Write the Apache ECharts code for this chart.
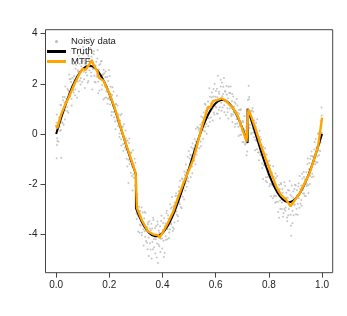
<!DOCTYPE html>
<html><head><meta charset="utf-8">
<script src="https://cdn.jsdelivr.net/npm/echarts@6/dist/echarts.min.js"></script>
<style>html,body{margin:0;padding:0;background:#fff}#c{width:347px;height:316px}</style>
</head><body><div id="c"></div>
<script>
var xTicks = [0, 0.2, 0.4, 0.6, 0.8, 1.0];
var yTicks = [-4, -2, 0, 2, 4];
var seriesNames = ['Noisy data', 'Truth', 'MTF'];

var truthX = [0,0.01,0.02,0.03,0.04,0.05,0.06,0.07,0.08,0.09,0.1,0.11,0.12,0.13,0.14,0.15,0.16,0.17,0.18,0.19,0.2,0.21,0.22,0.23,0.24,0.25,0.26,0.27,0.28,0.29,0.3,0.3,0.31,0.32,0.33,0.34,0.35,0.36,0.37,0.38,0.39,0.4,0.41,0.42,0.43,0.44,0.45,0.46,0.47,0.48,0.49,0.5,0.51,0.52,0.53,0.54,0.55,0.56,0.57,0.58,0.59,0.6,0.61,0.62,0.63,0.64,0.65,0.66,0.67,0.68,0.69,0.7,0.71,0.72,0.72,0.73,0.74,0.75,0.76,0.77,0.78,0.79,0.8,0.81,0.82,0.83,0.84,0.85,0.86,0.87,0.88,0.89,0.9,0.91,0.92,0.93,0.94,0.95,0.96,0.97,0.98,0.99,1.0];
var truthY = [0,0.341,0.676,1.001,1.311,1.599,1.862,2.096,2.297,2.461,2.587,2.672,2.715,2.715,2.672,2.587,2.461,2.297,2.096,1.862,1.599,1.311,1.001,0.676,0.341,0,-0.341,-0.676,-1.001,-1.311,-1.599,-2.959,-3.222,-3.456,-3.657,-3.821,-3.947,-4.032,-4.075,-4.075,-4.032,-3.947,-3.821,-3.657,-3.456,-3.222,-2.959,-2.671,-2.361,-2.036,-1.701,-1.36,-1.019,-0.684,-0.359,-0.049,0.239,0.502,0.736,0.937,1.101,1.227,1.312,1.355,1.355,1.312,1.227,1.101,0.937,0.736,0.502,0.239,-0.049,-0.359,1.001,0.676,0.341,0,-0.341,-0.676,-1.001,-1.311,-1.599,-1.862,-2.096,-2.297,-2.461,-2.587,-2.672,-2.715,-2.715,-2.672,-2.587,-2.461,-2.297,-2.096,-1.862,-1.599,-1.311,-1.001,-0.676,-0.341,0];

var mtfX = [0,0.004,0.018,0.036,0.046,0.07,0.089,0.1,0.11,0.125,0.134,0.143,0.155,0.16,0.178,0.2,0.215,0.23,0.255,0.277,0.299,0.304,0.322,0.346,0.365,0.383,0.388,0.403,0.42,0.44,0.46,0.478,0.497,0.515,0.534,0.55,0.572,0.58,0.59,0.605,0.622,0.64,0.666,0.684,0.7,0.716,0.723,0.734,0.75,0.765,0.79,0.81,0.83,0.847,0.865,0.881,0.9,0.916,0.935,0.953,0.97,0.985,1.0];
var mtfY = [0.36,0.22,0.75,1.22,1.42,2.02,2.42,2.6,2.55,2.78,2.93,2.7,2.5,2.25,2.12,1.62,1.2,0.72,-0.16,-0.85,-1.55,-2.95,-3.43,-3.89,-4.0,-4.03,-4.14,-3.89,-3.55,-3.1,-2.5,-1.98,-1.5,-1.04,-0.28,0.35,1.09,1.05,1.32,1.35,1.42,1.3,1.02,0.69,0.2,-0.31,0.98,0.69,0.2,-0.3,-1.05,-1.6,-2.15,-2.45,-2.62,-2.88,-2.6,-2.36,-1.95,-1.57,-1.0,-0.5,0.65];

var noisyBatchA = [
[0.001,0.45],[0.004,-0.17],[0.006,0.26],[0.009,-0.31],[0.003,-0.44],[0.002,-0.97],
[0.011,0.66],[0.013,0.29],[0.016,1.15],[0.018,0.16],[0.019,-0.95],
[0.021,0.86],[0.024,0.43],[0.026,1.34],[0.028,0.86],
[0.031,1.25],[0.033,0.58],[0.035,1.89],[0.038,1.27],
[0.041,1.07],[0.043,1.79],[0.046,0.84],[0.049,1.68],
[0.051,2.18],[0.053,1.49],[0.056,2.07],[0.058,1.39],
[0.061,1.93],[0.064,2.78],[0.066,1.65],[0.068,2.31],
[0.071,1.54],[0.073,2.60],[0.075,2.13],[0.078,2.93],
[0.081,2.09],[0.083,2.48],[0.086,1.69],[0.089,2.80],
[0.091,3.39],[0.093,2.22],[0.095,2.70],[0.098,2.07],
[0.101,3.17],[0.104,2.48],[0.106,2.93],[0.108,1.83],
[0.111,2.77],[0.113,3.74],[0.116,2.33],[0.119,3.17],
[0.121,2.11],[0.123,2.96],[0.126,2.67],[0.128,3.43],
[0.131,2.45],[0.133,3.08],[0.136,1.77],[0.139,2.82],
[0.141,3.18],[0.143,2.32],[0.146,2.69],[0.148,2.05],
[0.151,2.88],[0.154,2.38],[0.156,3.35],[0.158,2.08],
[0.161,2.57],[0.163,1.73],[0.166,2.79],[0.169,2.29],
[0.171,2.90],[0.173,1.95],[0.176,2.36],[0.178,1.37],
[0.181,2.42],[0.184,1.89],[0.186,2.49],[0.188,1.45],
[0.191,1.90],[0.193,1.20],[0.196,2.11],[0.199,1.44],
[0.201,2.31],[0.203,1.17],[0.206,1.58],[0.208,0.75],
[0.211,1.55],[0.214,1.11],[0.216,1.69],[0.218,0.67],
[0.221,1.10],[0.223,0.19],[0.226,1.19],[0.229,0.56],
[0.231,1.13],[0.233,0.32],[0.236,0.51],[0.238,-0.12],
[0.241,0.53],[0.244,-0.21],[0.246,0.80],[0.248,0.03],
[0.251,0.30],[0.253,-0.67],[0.256,-0.09],[0.259,-0.55],
[0.261,0.14],[0.263,-0.62],[0.266,-0.27],[0.268,-1.30],
[0.271,-0.63],[0.274,-0.36],[0.276,-1.20],[0.278,-0.77],[0.272,-1.95],
[0.281,-1.55],[0.283,-0.73],[0.286,-1.30],[0.289,-0.65],[0.287,-2.25],
[0.291,-1.61],[0.293,-1.26],[0.296,-2.06],[0.298,-1.15],
[0.301,-2.57],[0.303,-3.39],[0.306,-2.41],[0.308,-3.26],
[0.311,-3.07],[0.314,-3.94],[0.316,-3.07],[0.318,-3.65],
[0.321,-2.93],[0.323,-3.93],[0.326,-3.54],[0.329,-4.45],
[0.331,-3.36],[0.333,-3.88],[0.336,-3.14],[0.338,-4.27],
[0.341,-3.72],[0.344,-4.60],[0.346,-3.53],[0.348,-4.13],
[0.351,-3.48],[0.353,-4.36],[0.356,-3.84],[0.359,-4.96],
[0.361,-3.77],[0.364,-4.60],[0.366,-3.43],[0.368,-4.19],
[0.371,-4.03],[0.373,-4.76],[0.376,-3.67],[0.379,-4.37],
[0.381,-3.49],[0.383,-5.14],[0.386,-3.86],[0.388,-4.48],
[0.391,-3.68],[0.393,-4.18],[0.396,-3.26],[0.399,-4.57],
[0.401,-3.84],[0.404,-4.26],[0.406,-3.36],[0.408,-4.73],
[0.411,-3.57],[0.413,-4.22],[0.416,-3.06],[0.419,-3.80],
[0.421,-3.25],[0.424,-4.15],[0.426,-3.42],[0.428,-3.81],
[0.431,-2.97],[0.433,-3.61],[0.436,-2.51],[0.439,-3.72],
[0.441,-3.05],[0.443,-3.78],[0.446,-2.73],[0.448,-3.10],
[0.451,-2.36],[0.454,-3.22],[0.456,-2.58],[0.458,-3.47],
[0.461,-2.28],[0.463,-2.73],[0.466,-1.87],[0.469,-2.91],
[0.471,-2.29],[0.473,-1.78],[0.476,-2.50],[0.478,-1.91],
[0.481,-2.61],[0.484,-1.63],[0.486,-1.98],[0.488,-1.22],
[0.491,-2.10],[0.493,-1.44],[0.496,-1.77],[0.499,-0.68],
[0.501,-1.41],[0.504,-0.83],[0.506,-1.72],[0.508,-0.86],
[0.511,-1.30],[0.513,-0.38],[0.516,-0.94],[0.519,-0.65],
[0.521,-0.21],[0.524,-1.21],[0.526,-0.30],[0.528,-0.70],
[0.531,0.28],[0.533,-0.41],[0.536,0.15],[0.539,-0.57],
[0.541,0.21],[0.544,-0.30],[0.546,0.70],[0.548,0.16],
[0.551,0.66],[0.553,-0.19],[0.556,0.54],[0.559,1.20],
[0.561,0.29],[0.563,0.92],[0.566,0.01],[0.568,0.80],
[0.571,1.29],[0.574,0.63],[0.576,1.82],[0.578,0.48],
[0.581,1.21],[0.583,0.92],[0.586,1.65],[0.589,0.54],
[0.591,1.49],[0.593,0.85],[0.596,2.00],[0.599,1.09],
[0.601,1.71],[0.604,0.82],[0.606,1.46],[0.608,2.32],
[0.611,0.96],[0.613,1.60],[0.616,0.63],[0.619,1.89],
[0.621,1.24],[0.623,2.05],[0.626,1.05],[0.628,1.59],
[0.631,2.23],[0.633,0.86],[0.636,1.68],[0.639,1.28],
[0.641,1.91],[0.644,1.01],[0.646,1.42],[0.648,0.62],
[0.651,1.64],[0.653,1.01],[0.656,1.89],[0.659,0.72],
[0.661,1.30],[0.663,0.48],[0.666,1.49],[0.668,0.86],
[0.671,1.26],[0.674,0.40],[0.676,0.90],[0.679,1.39],
[0.681,0.42],[0.683,0.84],[0.686,-0.08],[0.688,0.96],
[0.691,0.33],[0.693,0.94],[0.696,-0.03],[0.699,0.49],
[0.701,-0.32],[0.704,0.48],[0.706,-0.02],[0.708,0.72],
[0.711,-0.42],[0.713,0.13],[0.716,-0.85],[0.719,-0.19],
[0.721,1.35],[0.723,0.63],[0.726,1.47],[0.728,0.25],[0.724,1.92],
[0.731,0.76],[0.733,0.00],[0.736,0.93],[0.739,0.22],
[0.741,0.88],[0.744,-0.13],[0.746,0.38],[0.748,-0.65],
[0.751,0.28],[0.753,-0.28],[0.756,0.59],[0.759,-0.74],
[0.761,-0.32],[0.763,-1.05],[0.766,-0.12],[0.768,-0.84],
[0.771,-0.22],[0.774,-1.18],[0.776,-0.74],[0.778,-1.80],
[0.781,-0.75],[0.783,-1.23],[0.786,-0.57],[0.789,-1.73],
[0.791,-1.15],[0.793,-1.93],[0.796,-1.11],[0.798,-1.62],
[0.801,-1.07],[0.804,-1.99],[0.806,-1.61],[0.808,-2.48],
[0.811,-1.55],[0.813,-2.05],[0.816,-1.29],[0.819,-2.48],
[0.821,-2.03],[0.823,-2.74],[0.826,-1.76],[0.828,-2.48],
[0.831,-1.68],[0.834,-2.70],[0.836,-2.23],[0.838,-3.34],
[0.841,-2.20],[0.843,-2.98],[0.846,-2.00],[0.849,-2.73],
[0.851,-2.19],[0.853,-3.30],[0.856,-2.59],[0.858,-2.99],
[0.861,-2.06],[0.863,-2.93],[0.866,-2.34],[0.869,-3.48],
[0.871,-2.54],[0.873,-3.24],[0.876,-2.25],[0.878,-2.83],
[0.881,-2.42],[0.883,-3.66],[0.884,-4.06],[0.886,-2.05],[0.889,-3.06],
[0.891,-2.54],[0.893,-3.24],[0.896,-2.19],[0.898,-2.81],
[0.901,-2.05],[0.904,-2.98],[0.906,-2.44],[0.908,-3.22],
[0.911,-2.09],[0.913,-2.56],[0.916,-1.68],[0.919,-2.78],
[0.921,-2.05],[0.923,-2.86],[0.926,-1.79],[0.928,-2.22],
[0.931,-1.52],[0.933,-2.37],[0.936,-1.82],[0.939,-2.47],
[0.941,-1.53],[0.943,-1.99],[0.946,-0.98],[0.948,-2.04],
[0.951,-1.41],[0.954,-1.99],[0.956,-1.00],[0.959,-1.40],
[0.961,-0.70],[0.963,-1.59],[0.966,-0.89],[0.968,-1.70],
[0.971,-0.62],[0.973,-1.09],[0.976,-0.20],[0.979,-1.13],
[0.981,-0.51],[0.983,-1.14],[0.986,0.00],[0.988,-0.66],
[0.991,0.08],[0.993,-0.68],[0.996,0.52],[0.999,0.04],[0.998,1.05]
];

var noisyBatchB = [
[0.002,0.78],[0.005,-0.27],[0.0085,0.47],[0.012,0.46],[0.015,0.12],[0.0185,1.15],
[0.022,0.47],[0.025,1.47],[0.0285,0.37],[0.032,1.47],[0.035,0.94],[0.0385,1.39],
[0.042,0.90],[0.045,1.74],[0.0485,2.37],[0.052,1.52],[0.055,2.20],[0.0585,1.13],
[0.062,2.24],[0.065,1.74],[0.0685,2.15],[0.072,1.78],[0.075,2.76],[0.0785,1.44],
[0.082,2.54],[0.085,3.12],[0.0885,2.13],[0.092,1.97],[0.095,2.89],[0.0985,2.59],
[0.102,3.48],[0.105,2.18],[0.1085,2.82],[0.112,2.45],[0.115,3.20],[0.1185,2.04],
[0.122,3.11],[0.125,2.54],[0.1285,3.80],[0.132,2.30],[0.135,2.95],[0.1385,2.59],
[0.142,3.30],[0.145,2.08],[0.1485,2.73],[0.152,2.29],[0.155,3.01],[0.1585,1.62],
[0.162,2.75],[0.165,2.24],[0.1685,2.90],[0.172,1.77],[0.175,2.37],[0.1785,2.56],
[0.182,1.43],[0.185,2.26],[0.1885,1.69],[0.192,2.27],[0.195,1.40],[0.1985,2.55],
[0.202,1.37],[0.205,1.88],[0.2085,0.87],[0.212,1.86],[0.215,0.87],[0.2185,1.13],
[0.222,0.50],[0.225,1.18],[0.2285,1.52],[0.232,0.49],[0.235,0.78],[0.2385,0.02],
[0.242,0.75],[0.245,-0.46],[0.2485,0.27],[0.252,-0.40],[0.255,0.39],[0.2585,-0.36],
[0.262,-0.17],[0.265,-0.99],[0.2685,-0.26],[0.272,-1.03],[0.275,-0.18],[0.2785,-1.09],
[0.282,-0.75],[0.285,-1.68],[0.2885,-1.16],[0.292,-1.75],[0.295,-0.99],[0.2985,-1.78],
[0.302,-3.17],[0.305,-2.56],[0.3085,-3.89],[0.312,-2.90],[0.315,-3.62],[0.3185,-3.28],
[0.322,-4.04],[0.325,-3.13],[0.3285,-3.80],[0.332,-3.11],[0.335,-4.10],[0.3385,-3.73],
[0.342,-4.34],[0.345,-3.60],[0.3485,-4.86],[0.352,-3.77],[0.355,-4.61],[0.3585,-3.58],
[0.362,-4.31],[0.365,-3.34],[0.3685,-4.52],[0.372,-3.75],[0.375,-4.20],[0.3785,-4.92],
[0.382,-3.61],[0.385,-4.41],[0.3885,-3.95],[0.392,-4.70],[0.395,-3.47],[0.3985,-4.17],
[0.402,-3.55],[0.405,-4.90],[0.4085,-3.68],[0.412,-4.08],[0.415,-3.16],[0.4185,-4.20],
[0.422,-3.38],[0.425,-3.93],[0.4285,-2.80],[0.432,-3.56],[0.435,-2.92],[0.4385,-3.87],
[0.442,-2.88],[0.445,-3.53],[0.4485,-2.47],[0.452,-3.08],[0.455,-2.46],[0.4585,-3.28],
[0.462,-2.10],[0.465,-2.80],[0.4685,-2.28],[0.472,-2.96],[0.475,-1.81],[0.4785,-2.16],
[0.482,-1.50],[0.485,-2.25],[0.4885,-1.54],[0.492,-1.87],[0.495,-0.91],[0.4985,-1.90],
[0.502,-0.98],[0.505,-1.32],[0.5085,-0.53],[0.512,-1.57],[0.515,-0.58],[0.5185,-1.06],
[0.522,-0.46],[0.525,0.21],[0.5285,-0.82],[0.532,-0.56],[0.535,0.24],[0.5385,-0.22],
[0.542,0.38],[0.545,-0.49],[0.5485,0.46],[0.552,0.15],[0.555,0.85],[0.5585,0.10],
[0.562,1.16],[0.565,0.40],[0.5685,1.04],[0.572,0.31],[0.575,1.03],[0.5785,1.48],
[0.582,0.66],[0.585,1.45],[0.5885,1.00],[0.592,1.79],[0.595,0.78],[0.5985,1.48],
[0.602,1.05],[0.605,1.80],[0.6085,0.81],[0.612,1.68],[0.615,1.06],[0.6185,2.16],
[0.622,0.92],[0.625,1.50],[0.6285,1.88],[0.632,1.14],[0.635,1.71],[0.6385,0.76],
[0.642,1.57],[0.645,0.86],[0.6485,1.88],[0.652,1.14],[0.655,1.63],[0.6585,0.80],
[0.662,1.59],[0.665,0.78],[0.6685,1.09],[0.672,0.29],[0.675,1.20],[0.6785,0.59],
[0.682,1.13],[0.685,0.29],[0.6885,0.81],[0.692,-0.03],[0.695,0.98],[0.6985,0.13],
[0.702,0.52],[0.705,-0.33],[0.7085,0.18],[0.712,-0.38],[0.715,0.28],[0.7185,-0.70],
[0.722,0.82],[0.725,1.38],[0.7285,0.36],[0.732,0.90],[0.735,0.05],[0.7385,1.02],
[0.742,0.06],[0.745,0.54],[0.7485,-0.23],[0.752,0.45],[0.755,-0.61],[0.7585,-0.13],
[0.762,-0.74],[0.765,0.13],[0.7685,-0.70],[0.772,-0.43],[0.775,-1.36],[0.7785,-0.51],
[0.782,-1.25],[0.785,-0.80],[0.7885,-1.88],[0.792,-0.82],[0.795,-1.72],[0.7985,-1.44],
[0.802,-2.08],[0.805,-1.25],[0.8085,-2.00],[0.812,-1.64],[0.815,-2.56],[0.8185,-1.71],
[0.822,-2.45],[0.825,-1.58],[0.8285,-2.71],[0.832,-2.15],[0.835,-3.11],[0.8385,-2.03],
[0.842,-2.65],[0.845,-1.95],[0.8485,-2.99],[0.852,-2.34],[0.855,-3.16],[0.8585,-1.93],
[0.862,-3.06],[0.865,-2.54],[0.8685,-3.33],[0.872,-2.23],[0.875,-2.99],[0.8785,-1.88],
[0.882,-3.22],[0.885,-2.48],[0.8885,-3.56],[0.892,-2.29],[0.895,-2.82],[0.8985,-2.02],
[0.902,-3.20],[0.905,-2.24],[0.9085,-2.79],[0.912,-1.96],[0.915,-2.94],[0.9185,-2.18],
[0.922,-2.63],[0.925,-1.59],[0.9285,-2.37],[0.932,-1.72],[0.935,-2.47],[0.9385,-1.83],
[0.942,-2.07],[0.945,-1.20],[0.9485,-2.35],[0.952,-1.16],[0.955,-1.68],[0.9585,-0.88],
[0.962,-1.73],[0.965,-0.90],[0.9685,-1.18],[0.972,-0.32],[0.975,-1.21],[0.9785,-0.55],
[0.982,-0.90],[0.985,0.03],[0.9885,-0.85],[0.992,0.04],[0.995,-0.35],[0.9985,0.74]
];

function zip(a, b) { return a.map(function (v, i) { return [v, b[i]]; }); }

var chart = echarts.init(document.getElementById('c'), null, { renderer: 'canvas' });
var FONT = 'Liberation Sans, Arial, Helvetica, sans-serif';
chart.setOption({
  animation: false,
  backgroundColor: '#ffffff',
  grid: { left: 45.5, right: 14.3, top: 29.7, bottom: 43.3, show: true, borderColor: '#444', borderWidth: 1, backgroundColor: 'transparent' },
  xAxis: {
    type: 'value', min: -0.04, max: 1.04,
    axisLine: { show: false, onZero: false },
    splitLine: { show: false },
    axisTick: { show: true, inside: false, length: 5, customValues: xTicks, lineStyle: { color: '#444', width: 1 } },
    axisLabel: { show: true, customValues: xTicks, margin: 8, color: '#222', fontSize: 10, fontFamily: FONT,
      formatter: function (v) { return v.toFixed(1); } }
  },
  yAxis: {
    type: 'value', min: -5.53, max: 4.155,
    axisLine: { show: false, onZero: false },
    splitLine: { show: false },
    axisTick: { show: true, inside: false, length: 5, customValues: yTicks, lineStyle: { color: '#444', width: 1 } },
    axisLabel: { show: true, customValues: yTicks, margin: 8, color: '#222', fontSize: 10, fontFamily: FONT,
      formatter: function (v) { return String(v); } }
  },
  legend: {
    orient: 'vertical', left: 47, top: 36.5, itemGap: 0, itemWidth: 19, itemHeight: 3,
    textStyle: { fontSize: 9.5, fontFamily: FONT, color: '#222', lineHeight: 10, padding: [0, 0, 0, 0] },
    padding: 0,
    data: [
      { name: seriesNames[0], icon: 'circle', itemStyle: { color: '#aaaaaa' } },
      { name: seriesNames[1], icon: 'rect', itemStyle: { color: '#000000' } },
      { name: seriesNames[2], icon: 'rect', itemStyle: { color: '#FFA500' } }
    ]
  },
  series: [
    { name: seriesNames[0], type: 'scatter', data: noisyBatchA.concat(noisyBatchB), symbol: 'circle', symbolSize: 2,
      itemStyle: { color: '#b8b8b8' }, silent: true, z: 1 },
    { name: seriesNames[1], type: 'line', data: zip(truthX, truthY), showSymbol: false, symbol: 'none',
      lineStyle: { color: '#000000', width: 2 }, itemStyle: { color: '#000000' }, z: 2 },
    { name: seriesNames[2], type: 'line', data: zip(mtfX, mtfY), showSymbol: false, symbol: 'none',
      lineStyle: { color: '#FFA500', width: 2.4 }, itemStyle: { color: '#FFA500' }, z: 3 }
  ]
});
</script></body></html>
